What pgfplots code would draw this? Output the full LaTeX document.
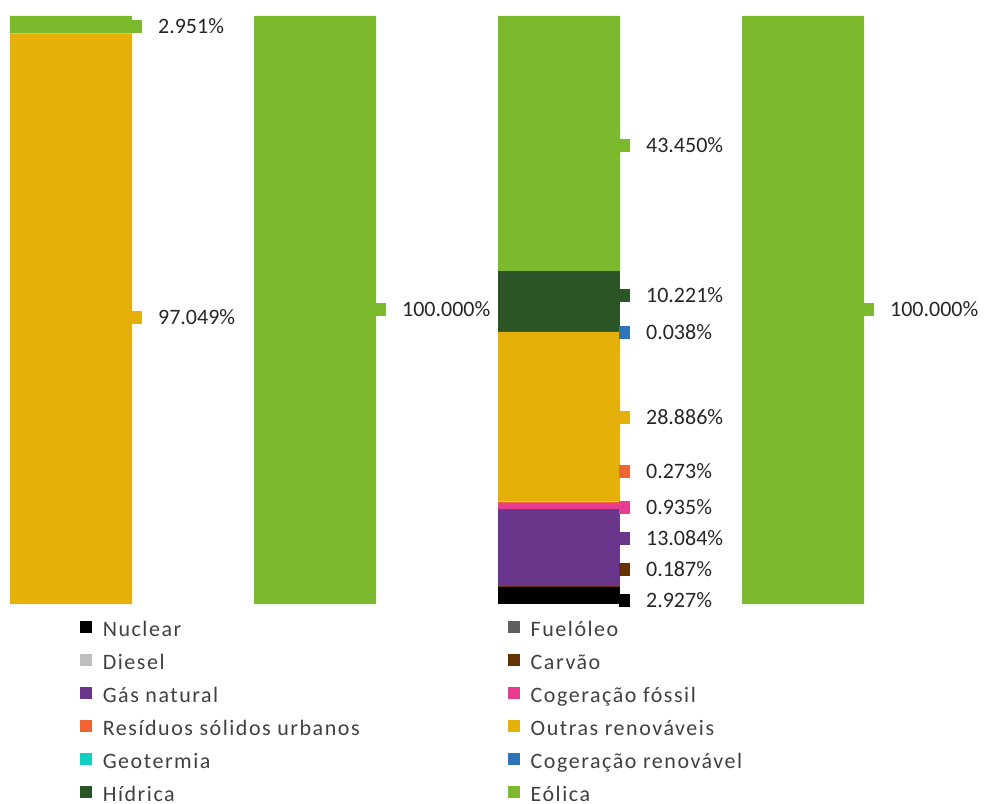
\documentclass[border=0pt]{standalone}
\usepackage{pgfplots}
\pgfplotsset{compat=1.18}
\usepackage{fontspec}
\setmainfont{Carlito}
\newfontfamily\legfont[LetterSpace=7]{Carlito}
\definecolor{cNuc}{HTML}{000000}
\definecolor{cFuel}{HTML}{5F5F5F}
\definecolor{cDie}{HTML}{BFBFBF}
\definecolor{cCar}{HTML}{663300}
\definecolor{cGas}{HTML}{6A368C}
\definecolor{cCogF}{HTML}{E83D8F}
\definecolor{cRes}{HTML}{F06434}
\definecolor{cOut}{HTML}{E6B00A}
\definecolor{cGeo}{HTML}{12CFC4}
\definecolor{cCogR}{HTML}{2E74B8}
\definecolor{cHid}{HTML}{2C5527}
\definecolor{cEol}{HTML}{7DB92C}
\definecolor{labtxt}{HTML}{262626}
\definecolor{legtxt}{HTML}{404040}
\pgfplotsset{
  lab/.style={only marks, mark=square*, mark size=5pt, mark options={yscale=1.2}, color=#1,
    nodes near coords, point meta=explicit symbolic,
    nodes near coords style={anchor=west, xshift=19pt, text=labtxt, font=\fontsize{22}{26}\selectfont, inner sep=3pt}},
  bars/.style={fill=#1, draw=none}
}
\begin{document}
\begin{tikzpicture}[x=1pt,y=1pt]
\path[use as bounding box] (0,0) rectangle (987,803);
\begin{axis}[at={(10pt,199pt)}, anchor=south west, scale only axis,
  width=854pt, height=588pt, xmin=-0.25, xmax=3.25, ymin=0, ymax=100,
  hide axis, clip=false, ybar stacked, bar width=122pt,
  legend columns=2, legend cell align=left,
  legend image code/.code={\fill[#1] (0pt,-2pt) rectangle (12pt,10pt);\path (21pt,4pt);},
  legend style={at={(0.078,-0.0234)}, anchor=north west, draw=none, fill=none,
    font=\legfont\fontsize{22}{26}\selectfont, text=legtxt, row sep=11pt,
    /tikz/every even column/.append style={column sep=146pt},
    nodes={inner sep=2pt, text depth=3pt, text height=15pt}},
]
\addplot[bars=cNuc] coordinates {(0,0) (1,0) (2,2.927) (3,0)};
\addlegendentry{Nuclear}
\addplot[bars=cFuel] coordinates {(0,0) (1,0) (2,0) (3,0)};
\addlegendentry{Fuelóleo}
\addplot[bars=cDie] coordinates {(0,0) (1,0) (2,0) (3,0)};
\addlegendentry{Diesel}
\addplot[bars=cCar] coordinates {(0,0) (1,0) (2,0.187) (3,0)};
\addlegendentry{Carvão}
\addplot[bars=cGas] coordinates {(0,0) (1,0) (2,13.084) (3,0)};
\addlegendentry{Gás natural}
\addplot[bars=cCogF] coordinates {(0,0) (1,0) (2,0.935) (3,0)};
\addlegendentry{Cogeração fóssil}
\addplot[bars=cRes] coordinates {(0,0) (1,0) (2,0.273) (3,0)};
\addlegendentry{Resíduos sólidos urbanos}
\addplot[bars=cOut] coordinates {(0,97.049) (1,0) (2,28.886) (3,0)};
\addlegendentry{Outras renováveis}
\addplot[bars=cGeo] coordinates {(0,0) (1,0) (2,0) (3,0)};
\addlegendentry{Geotermia}
\addplot[bars=cCogR] coordinates {(0,0) (1,0) (2,0.038) (3,0)};
\addlegendentry{Cogeração renovável}
\addplot[bars=cHid] coordinates {(0,0) (1,0) (2,10.221) (3,0)};
\addlegendentry{Hídrica}
\addplot[bars=cEol] coordinates {(0,2.951) (1,100) (2,43.450) (3,100)};
\addlegendentry{Eólica}
\end{axis}
\begin{axis}[at={(10pt,199pt)}, anchor=south west, scale only axis,
  width=854pt, height=588pt, xmin=-0.25, xmax=3.25, ymin=0, ymax=100,
  hide axis, clip=false]
\addplot[lab=cEol] coordinates {(0.266,98.3) [2.951\%] (1.266,50.2) [100.000\%] (2.266,78.1) [43.450\%] (3.266,50.2) [100.000\%]};
\addplot[lab=cOut] coordinates {(0.266,48.8) [97.049\%] (2.266,31.8) [28.886\%]};
\addplot[lab=cHid] coordinates {(2.266,52.5) [10.221\%]};
\addplot[lab=cCogR] coordinates {(2.266,46.3) [0.038\%]};
\addplot[lab=cRes] coordinates {(2.266,22.6) [0.273\%]};
\addplot[lab=cCogF] coordinates {(2.266,16.4) [0.935\%]};
\addplot[lab=cGas] coordinates {(2.266,11.2) [13.084\%]};
\addplot[lab=cCar] coordinates {(2.266,6.0) [0.187\%]};
\addplot[lab=cNuc] coordinates {(2.266,0.7) [2.927\%]};
\end{axis}
\end{tikzpicture}
\end{document}
